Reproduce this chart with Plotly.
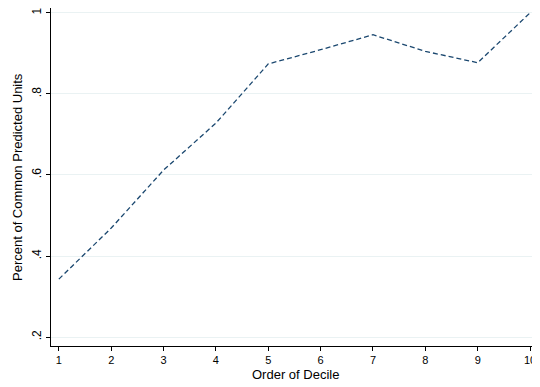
import plotly.graph_objects as go

deciles = [1, 2, 3, 4, 5, 6, 7, 8, 9, 10]
share = [0.343, 0.469, 0.612, 0.728, 0.874, 0.909, 0.946, 0.905, 0.877, 1.0]
ytick_vals = [0.2, 0.4, 0.6, 0.8, 1.0]
ytick_text = [".2", ".4", ".6", ".8", "1"]

fig = go.Figure()
fig.add_trace(go.Scatter(x=deciles, y=share, mode="lines",
                         line=dict(color="#1a476f", width=1.3, dash="5px,3px")))

font = "Liberation Sans, Arial, sans-serif"
# page body has an 8px margin, so the figure is sized to fit the 540x387 window
fig.update_layout(
    width=532, height=379,
    margin=dict(l=43, r=0, t=0, b=41, autoexpand=False),
    paper_bgcolor="white", plot_bgcolor="white",
    showlegend=False,
    font=dict(family=font, color="black", size=11),
)
fig.update_xaxes(
    range=[0.85, 10.19], tickvals=deciles, ticks="outside", ticklen=4,
    tickcolor="black", showline=True, linecolor="black", linewidth=1,
    showgrid=False, zeroline=False, tickfont=dict(size=11), automargin=False,
    ticklabeloverflow="allow",
)
fig.update_yaxes(
    range=[0.178, 1.012], tickvals=ytick_vals, ticktext=ytick_text,
    ticks="outside", ticklen=4, tickcolor="black", tickangle=-90,
    showline=True, linecolor="black", linewidth=1,
    showgrid=True, gridcolor="#eaf2f3", gridwidth=1, zeroline=False,
    tickfont=dict(size=12), automargin=False, ticklabeloverflow="allow",
)
fig.add_annotation(text="Order of Decile", xref="paper", yref="paper",
                   x=0.5, y=0, yshift=-28, xanchor="center", yanchor="middle",
                   showarrow=False, font=dict(size=13))
fig.add_annotation(text="Percent of Common Predicted Units", xref="paper", yref="paper",
                   x=0, y=0.5, xshift=-34, xanchor="center", yanchor="middle",
                   textangle=-90, showarrow=False, font=dict(size=13))
fig.write_html("out.html")
